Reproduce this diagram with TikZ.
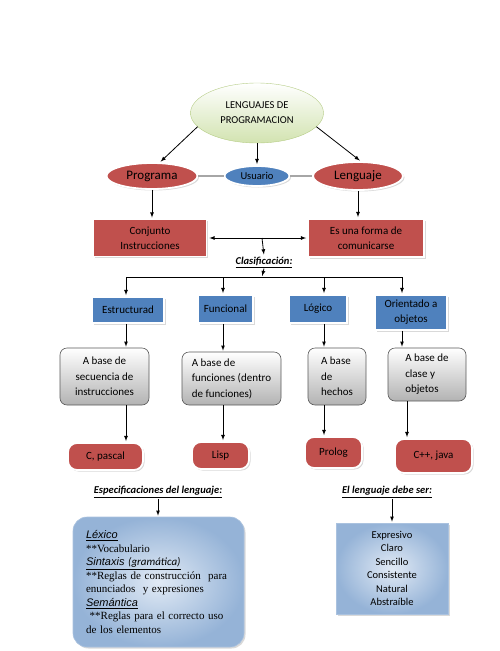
\documentclass[tikz,border=0pt]{standalone}
\usepackage{fontspec}
\setmainfont{Carlito}
\newfontfamily\serifo{Liberation Serif}
\newfontfamily\arialo{Liberation Sans}
\usetikzlibrary{shapes.geometric,shadows}

\definecolor{rojo}{HTML}{C0504D}
\definecolor{azul}{HTML}{4F81BD}
\definecolor{verdeclaro}{HTML}{D2E3B0}
\definecolor{verdeborde}{HTML}{B5CC85}
\definecolor{celeste}{HTML}{E1EAF5}
\definecolor{celesteosc}{HTML}{95B3D7}

\tikzset{
  sombra/.style={drop shadow={opacity=0.3,shadow xshift=1.5pt,shadow yshift=-1.5pt}},
  elipsetitulo/.style={ellipse,inner sep=0pt,minimum width=133pt,minimum height=60pt,top color=white,bottom color=verdeclaro,draw=verdeborde,align=center,font=\fontsize{10.5}{15}\selectfont},
  elipseroja/.style={ellipse,inner sep=0pt,fill=rojo,draw=white,line width=1.8pt,sombra,font=\fontsize{13}{15}\selectfont},
  elipseazul/.style={ellipse,inner sep=0pt,fill=azul,draw=white,line width=1.8pt,sombra,font=\fontsize{10.5}{12}\selectfont},
  cajaroja/.style={rectangle,inner sep=0pt,fill=rojo,draw=white,line width=1.8pt,sombra,align=center,font=\fontsize{11}{15}\selectfont},
  cajaazul/.style={rectangle,inner sep=0pt,fill=azul,draw=white,line width=1.8pt,sombra,align=center,font=\fontsize{11}{15}\selectfont},
  cajagris/.style={rectangle,inner sep=0pt,rounded corners=7pt,top color=white,bottom color=gray!60,draw=gray!70!black,line width=0.6pt,font=\fontsize{11}{15.5}\selectfont},
  finroja/.style={rectangle,inner sep=0pt,rounded corners=9pt,fill=rojo,draw=white,line width=1.8pt,sombra,font=\fontsize{11}{13}\selectfont},
  cajaceleste/.style={rectangle,inner color=celeste,outer color=celesteosc,draw=celesteosc!80,line width=0.6pt,sombra},
  titulito/.style={inner sep=1pt,font=\fontsize{10.5}{12}\selectfont\bfseries\itshape},
  flecha/.style={->,line width=0.8pt,shorten >=1pt},
}

\begin{document}
\begin{tikzpicture}[x=1pt,y=-1pt,>=latex]
\useasboundingbox (0,0) rectangle (500,651);

% parte de arriba
\node [elipsetitulo] (lenguajes) at (257,113) {LENGUAJES DE\\PROGRAMACION};
\node [elipseroja,minimum width=91pt,minimum height=26pt] (programa) at (152,176) {Programa};
\node [elipseazul,minimum width=65pt,minimum height=20pt] (usuario) at (257,176) {Usuario};
\node [elipseroja,minimum width=90pt,minimum height=28pt] (lenguaje) at (358,176) {Lenguaje};

\draw[flecha] (lenguajes.193)--(programa.60);
\draw[flecha] (lenguajes)--(usuario);
\draw[flecha] (lenguajes.-13)--(lenguaje.80);
\draw[gray!70,line width=1.2pt] (programa)--(usuario);
\draw[gray!70,line width=1.2pt] (usuario)--(lenguaje);

\node [cajaroja,minimum width=113pt,minimum height=37pt] (conjunto) at (150,238) {Conjunto\\Instrucciones};
\node [cajaroja,minimum width=116pt,minimum height=38pt] (forma) at (366,238) {Es una forma de\\comunicarse};

\draw[flecha] (programa.south)--(programa.south |- conjunto.north);
\draw[flecha] (lenguaje.south)--(lenguaje.south |- forma.north);
\draw[<->,line width=0.8pt,shorten <=2pt,shorten >=1pt] (conjunto)--(forma);

% clasificacion
\coordinate (cruce) at (262,238);
\node [titulito] (clasif) at (264,262) {\underline{Clasificación:}};
\draw[flecha] (cruce)--(clasif.north);

\coordinate (barra) at (262,277);
\coordinate (cA) at (126,277);
\coordinate (cB) at (223,277);
\coordinate (cC) at (324,277);
\coordinate (cD) at (402,277);
\draw[flecha] (clasif.south)--(barra);
\draw[line width=0.8pt] (cA)--(cD);

\node [cajaazul,minimum width=72pt,minimum height=26pt] (estruct) at (128,310) {Estructurad};
\node [cajaazul,minimum width=55pt,minimum height=28pt] (func) at (225.5,309) {Funcional};
\node [cajaazul,minimum width=58pt,minimum height=28pt] (logico) at (318,309) {Lógico};
\node [cajaazul,minimum width=72pt,minimum height=35pt] (orient) at (411,312.5) {Orientado a\\objetos};

\node [cajagris,align=center,minimum width=89pt,minimum height=57pt] (baseE) at (104.5,376.5) {A base de\\secuencia de\\instrucciones};
\node [cajagris,align=left,minimum width=99pt,minimum height=53pt] (baseF) at (231.5,378.5) {A base de\\funciones (dentro\\de funciones)};
\node [cajagris,align=left,minimum width=58pt,minimum height=57pt] (baseL) at (337,376.5) {A base\\de\\hechos};
\node [cajagris,align=left,minimum width=78pt,minimum height=53pt] (baseO) at (427,374.5) {A base de\\clase y\\objetos};

\node [finroja,minimum width=75pt,minimum height=27pt] (cpascal) at (105.5,456.5) {C, pascal};
\node [finroja,minimum width=57pt,minimum height=27pt] (lisp) at (220.5,455.5) {Lisp};
\node [finroja,minimum width=57pt,minimum height=31pt] (prolog) at (333.5,452.5) {Prolog};
\node [finroja,minimum width=77pt,minimum height=34pt] (cpp) at (433.5,456) {C++, java};

\draw[flecha] (cA)--(cA |- estruct.north);
\draw[flecha] (cB)--(cB |- func.north);
\draw[flecha] (cC)--(cC |- logico.north);
\draw[flecha] (cD)--(cD |- orient.north);

\draw[flecha] (cA |- estruct.south)--(cA |- baseE.north);
\draw[flecha] (cB |- func.south)--(cB |- baseF.north);
\draw[flecha] (cC |- logico.south)--(cC |- baseL.north);
\draw[flecha] (cD |- orient.south)--(cD |- baseO.north);

\draw[flecha] (cA |- baseE.south)--(cA |- cpascal.north);
\draw[flecha] (cB |- baseF.south)--(cB |- lisp.north);
\draw[flecha] (cC |- baseL.south)--(cC |- prolog.north);
\draw[flecha] ([xshift=5pt]cD |- baseO.south)--([xshift=5pt]cD |- cpp.north);

% parte de abajo
\node [titulito] (espec) at (158,492) {\underline{Especificaciones del lenguaje:}};
\node [titulito] (debe) at (387,492) {\underline{El lenguaje debe ser:}};

\node [cajaceleste,rounded corners=14pt,minimum width=171pt,minimum height=130pt,text width=145pt,inner xsep=12pt,align=left,font=\fontsize{11}{13.5}\selectfont] (especbox) at (158.5,582)
  {{\arialo\itshape\underline{Léxico}}\\
   {\serifo **Vocabulario}\\
   \underline{{\arialo\itshape Sintaxis }{\itshape(gramática)}}\\
   {\serifo **Reglas de construcción\ \ para}\\
   {\serifo enunciados\ \ y expresiones}\\
   {\arialo\itshape\underline{Semántica}}\\
   {\serifo\ **Reglas para el correcto uso}\\
   {\serifo de los elementos}};
\node [cajaceleste,minimum width=112pt,minimum height=91pt,align=center,font=\fontsize{10.5}{13.4}\selectfont] (debebox) at (392,568.5)
  {Expresivo\\Claro\\Sencillo\\Consistente\\Natural\\Abstraíble};

\draw[flecha] (espec.south)--(espec.south |- especbox.north);
\draw[flecha] (debebox.north |- debe.south)--(debebox.north);

\end{tikzpicture}
\end{document}
